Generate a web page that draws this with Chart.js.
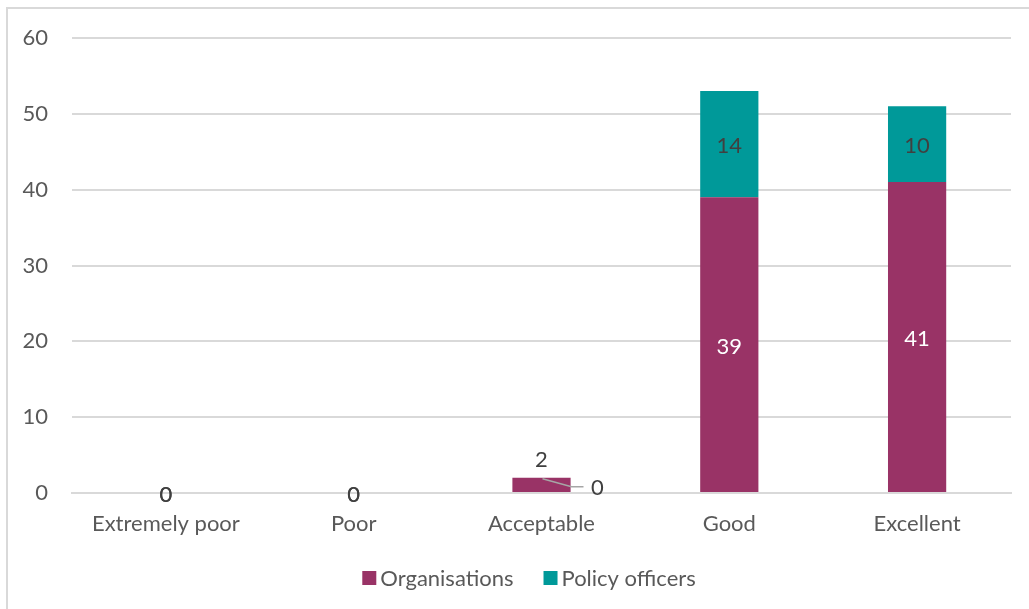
<!DOCTYPE html>
<html>
<head>
<meta charset="utf-8">
<script src="https://cdn.jsdelivr.net/npm/chart.js@4/dist/chart.umd.min.js"></script>
<style>
  html, body { margin: 0; padding: 0; background: #fff; }
  #wrap { position: relative; width: 1029px; height: 609px; overflow: hidden; }
  #frame { position: absolute; left: 6px; top: 7px; width: 1100px; height: 700px; border: 2px solid #d9d9d9; box-sizing: border-box; }
  canvas { position: absolute; left: 0; top: 0; }
</style>
</head>
<body>
<div id="wrap">
  <div id="frame"></div>
  <canvas id="c" width="1029" height="609"></canvas>
</div>
<script>
// Ratings and response counts
const categories = ['Extremely poor', 'Poor', 'Acceptable', 'Good', 'Excellent'];
const organisations = [0, 0, 2, 39, 41];
const policyOfficers = [0, 0, 0, 14, 10];
const yTicks = [0, 10, 20, 30, 40, 50, 60];

const FONT = 'Lato, "Open Sans", sans-serif';
const FONT_SIZE = 22;

// Value labels drawn on each bar segment
const valueLabels = {
  id: 'valueLabels',
  afterDatasetsDraw(chart, args, opts) {
    const ctx = chart.ctx;
    ctx.save();
    ctx.font = FONT_SIZE + 'px ' + FONT;
    ctx.textAlign = 'center';
    ctx.textBaseline = 'middle';
    chart.data.datasets.forEach((ds, di) => {
      const meta = chart.getDatasetMeta(di);
      meta.data.forEach((bar, i) => {
        const v = ds.data[i];
        const special = (opts.placements || []).find(p => p.dataset === di && p.index === i);
        let x = bar.x, y = (bar.y + bar.base) / 2 + 2;
        let color = (v > 0 && opts.insideColors) ? opts.insideColors[di] : '#404040';
        if (special) {
          if (special.above) {
            y = bar.y - special.above;
            color = '#404040';
          }
          if (special.dx !== undefined) {
            x = bar.x + special.dx;
            y = bar.y + special.dy;
            color = '#404040';
            if (special.leader) {
              ctx.strokeStyle = '#a6a6a6';
              ctx.lineWidth = 1.5;
              ctx.beginPath();
              ctx.moveTo(bar.x + 1, bar.y + 1);
              ctx.lineTo(bar.x + 30, bar.y + 9);
              ctx.lineTo(x - 14, bar.y + 9);
              ctx.stroke();
            }
          }
        }
        ctx.fillStyle = color;
        ctx.fillText(String(v), x, y);
      });
    });
    ctx.restore();
  }
};

// Legend row below the axis: square swatch, small gap, series name
const bottomLegend = {
  id: 'bottomLegend',
  afterDraw(chart, args, opts) {
    const ctx = chart.ctx;
    ctx.save();
    ctx.font = FONT_SIZE + 'px ' + FONT;
    ctx.textBaseline = 'middle';
    ctx.textAlign = 'left';
    const items = chart.data.datasets.map(ds => ({
      text: ds.label, color: ds.backgroundColor, w: ctx.measureText(ds.label).width
    }));
    const box = 14, gap = 4, itemGap = 30;
    const total = items.reduce((s, it) => s + box + gap + it.w, 0) + itemGap * (items.length - 1);
    let x = opts.centerX - total / 2;
    const y = opts.y;
    items.forEach(it => {
      ctx.fillStyle = it.color;
      ctx.fillRect(x, y - box / 2, box, box);
      ctx.fillStyle = '#595959';
      ctx.fillText(it.text, x + box + gap, y + 1);
      x += box + gap + it.w + itemGap;
    });
    ctx.restore();
  }
};

new Chart(document.getElementById('c'), {
  type: 'bar',
  data: {
    labels: categories,
    datasets: [
      { label: 'Organisations', data: organisations, backgroundColor: '#993366',
        borderWidth: 0, barPercentage: 0.31, categoryPercentage: 1 },
      { label: 'Policy officers', data: policyOfficers, backgroundColor: '#009999',
        borderWidth: 0, barPercentage: 0.31, categoryPercentage: 1 }
    ]
  },
  options: {
    responsive: false,
    animation: false,
    devicePixelRatio: 1,
    layout: { padding: { left: 18, right: 18, top: 38, bottom: 66 } },
    scales: {
      x: {
        stacked: true,
        grid: { display: false },
        border: { display: true, color: '#d9d9d9', width: 2 },
        ticks: { color: '#595959', font: { family: FONT, size: FONT_SIZE }, padding: 10 },
        afterFit(s) { s.height = 50; }
      },
      y: {
        stacked: true,
        min: 0, max: 60,
        afterBuildTicks(s) { s.ticks = yTicks.map(v => ({ value: v })); },
        grid: { color: '#d9d9d9', lineWidth: 2, drawTicks: false },
        border: { display: false },
        ticks: { color: '#595959', font: { family: FONT, size: FONT_SIZE }, padding: 24 },
        afterFit(s) { s.width = 54; }
      }
    },
    plugins: {
      legend: { display: false },
      tooltip: { enabled: false },
      bottomLegend: { centerX: 529, y: 578 },
      valueLabels: {
        insideColors: ['#ffffff', '#404040'],
        placements: [
          { dataset: 0, index: 2, above: 18 },
          { dataset: 1, index: 2, dx: 56, dy: 10, leader: true }
        ]
      }
    }
  },
  plugins: [valueLabels, bottomLegend]
});
</script>
</body>
</html>
